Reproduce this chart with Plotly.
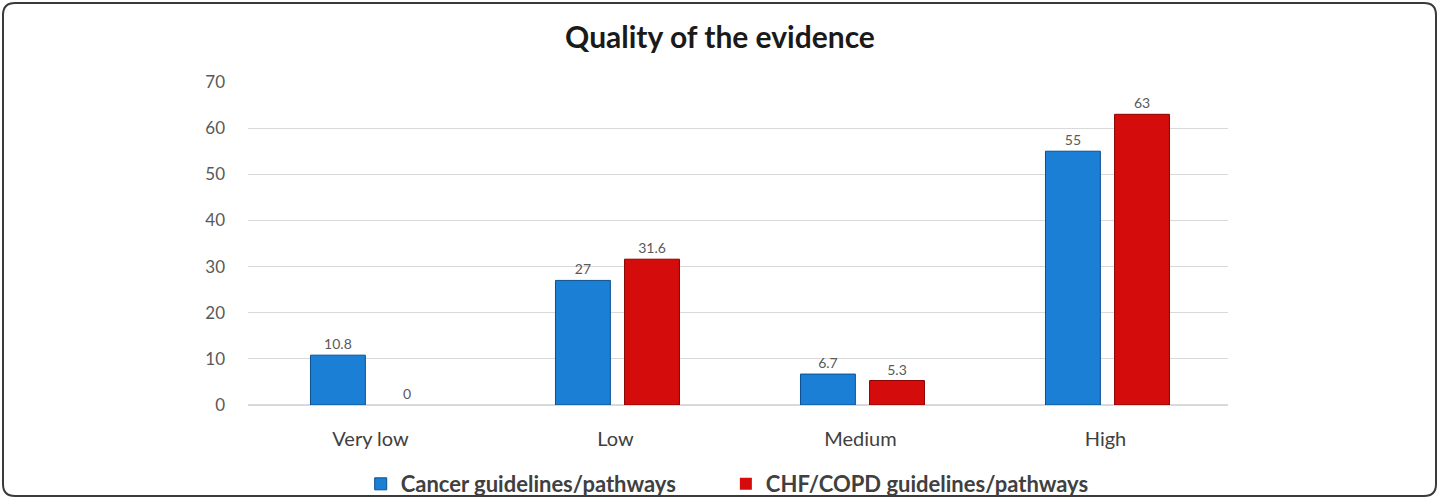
import plotly.graph_objects as go

categories = ["Very low", "Low", "Medium", "High"]
cancer = [10.8, 27, 6.7, 55]
chf = [0, 31.6, 5.3, 63]
cancer_labels = ["10.8", "27", "6.7", "55"]
chf_labels = ["0", "31.6", "5.3", "63"]
y_ticks = [0, 10, 20, 30, 40, 50, 60, 70]

fig = go.Figure()
fig.add_trace(go.Bar(
    x=categories, y=cancer, name="<b>Cancer guidelines/pathways</b>" + "&nbsp;" * 8,
    marker=dict(color="#1b7fd6", line=dict(color="#0b4f8f", width=1)),
    width=0.224, offset=-0.245,
    text=cancer_labels, textposition="outside", cliponaxis=False,
    textfont=dict(size=14, color="#595959", family="Lato"),
))
fig.add_trace(go.Bar(
    x=categories, y=chf, name="<b>CHF/COPD guidelines/pathways</b>",
    marker=dict(color="#d40c0c", line=dict(color="#8a0000", width=[0, 1, 1, 1])),
    width=0.224, offset=0.037,
    text=chf_labels, textposition="outside", cliponaxis=False,
    textfont=dict(size=14, color="#595959", family="Lato"),
))

W, H = 1440, 499
l, r, t, b = 248, 212, 82, 94
pw, ph = W - l - r, H - t - b

fig.update_layout(
    width=W, height=H,
    barmode="overlay",
    paper_bgcolor="white", plot_bgcolor="white",
    margin=dict(l=l, r=r, t=t, b=b, autoexpand=False),
    font=dict(family="Lato", color="#595959"),
    title=dict(text="<b>Quality of the evidence</b>", x=0.5, xanchor="center",
               y=0.925, yanchor="middle",
               font=dict(size=30, color="#1a1a1a", family="Lato")),
    showlegend=True,
    legend=dict(orientation="h", x=0.505, xanchor="center", xref="container",
                y=0.03, yanchor="middle", yref="container",
                bgcolor="rgba(0,0,0,0)",
                font=dict(size=22, color="#404040", family="Lato"),
                itemwidth=30, traceorder="normal"),
    xaxis=dict(showline=False, ticks="", ticklabelstandoff=20, automargin=False,
               tickfont=dict(size=20, color="#404040")),
    yaxis=dict(range=[0, 70], tickvals=y_ticks, showgrid=True, gridcolor="#d9d9d9",
               gridwidth=1, zeroline=True, zerolinecolor="#d9d9d9", showline=False,
               ticks="", ticklabelstandoff=22, automargin=False,
               tickfont=dict(size=17, color="#595959")),
)

def px(x): return (x - l) / pw
def py(y): return (H - b - y) / ph
x0, x1, y0, y1, rad = 3, 1436, 3, 496, 12
path = (f"M {px(x0+rad)},{py(y0)} L {px(x1-rad)},{py(y0)} "
        f"Q {px(x1)},{py(y0)} {px(x1)},{py(y0+rad)} "
        f"L {px(x1)},{py(y1-rad)} Q {px(x1)},{py(y1)} {px(x1-rad)},{py(y1)} "
        f"L {px(x0+rad)},{py(y1)} Q {px(x0)},{py(y1)} {px(x0)},{py(y1-rad)} "
        f"L {px(x0)},{py(y0+rad)} Q {px(x0)},{py(y0)} {px(x0+rad)},{py(y0)} Z")
fig.update_layout(shapes=[dict(type="path", xref="paper", yref="paper", path=path,
                               line=dict(color="#3a3a3a", width=2), layer="below")])

fig.write_html("out.html")
